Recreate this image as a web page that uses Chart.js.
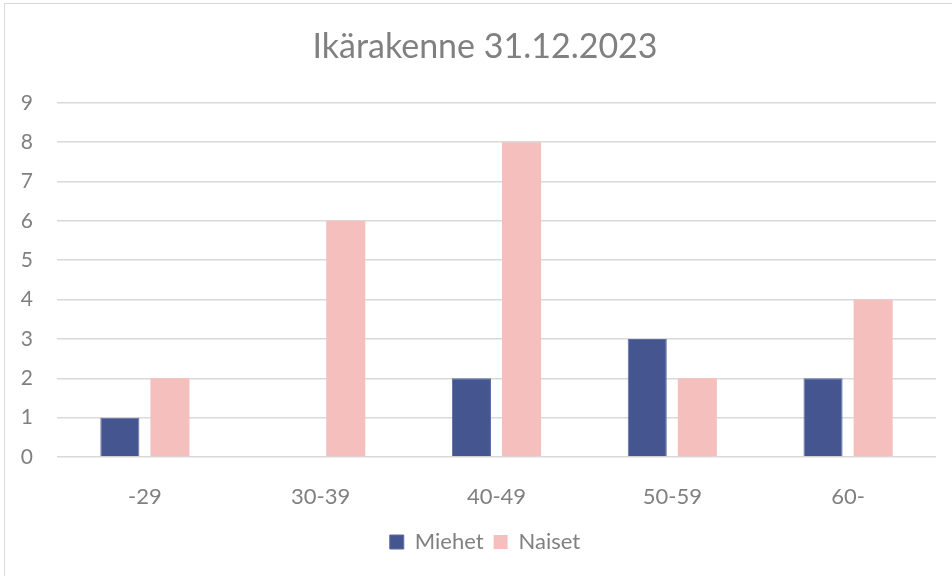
<!DOCTYPE html>
<html>
<head>
<meta charset="utf-8">
<script src="https://cdn.jsdelivr.net/npm/chart.js@4.4.0/dist/chart.umd.min.js"></script>
<style>
  html, body { margin: 0; padding: 0; background: #fff; overflow: hidden; }
  #wrap { position: relative; width: 952px; height: 576px; }
  #frame { position: absolute; left: 4px; top: 3px; width: 1000px; height: 1000px; border: 1px solid #d9d9d9; }
  canvas { position: absolute; left: 0; top: 0; }
</style>
</head>
<body>
<div id="wrap">
  <div id="frame"></div>
  <canvas id="ageChart" width="952" height="576"></canvas>
</div>
<script>
// Age groups and counts per gender
const ageGroups = ['-29', '30-39', '40-49', '50-59', '60-'];
const miehet = [1, 0, 2, 3, 2];
const naiset = [2, 6, 8, 2, 4];
const yTicks = [0, 1, 2, 3, 4, 5, 6, 7, 8, 9];

const fontName = 'Lato, "Liberation Sans", sans-serif';
const gray = '#808080';

// y labels sit in the left padding, so don't clip them to the (narrow) axis box
Chart.LinearScale.prototype._computeLabelArea = function () { return undefined; };

const ctx = document.getElementById('ageChart').getContext('2d');
const ageChart = new Chart(ctx, {
   type: 'bar',
   data: {
      labels: ageGroups,
      datasets: [
         {
            label: 'Miehet',
            data: miehet,
            backgroundColor: '#44558f',
            borderColor: '#5d6ea3',
            borderWidth: 1,
            barPercentage: 0.78,
            categoryPercentage: 0.57
         },
         {
            label: 'Naiset',
            data: naiset,
            backgroundColor: '#f4bfbd',
            borderWidth: 0,
            barPercentage: 0.78,
            categoryPercentage: 0.57
         }
      ]
   },
   options: {
      responsive: false,
      animation: false,
      // left padding pushes title/legend centre right like the original (its frame is cut off)
      layout: { padding: { left: 34, right: 16, top: 0, bottom: 13 } },
      scales: {
         x: {
            grid: { display: false },
            border: { display: false },
            ticks: { color: gray, font: { family: fontName, size: 22 }, padding: 19 },
            afterFit: scale => { scale.height = 64; }
         },
         y: {
            min: 0,
            max: 9,
            afterBuildTicks: scale => { scale.ticks = yTicks.map(v => ({ value: v })); },
            grid: { color: '#d9d9d9', lineWidth: 1.5, drawTicks: false },
            border: { display: false },
            ticks: { color: gray, font: { family: fontName, size: 21 }, padding: 24 },
            afterFit: scale => { scale.width = 23; }
         }
      },
      plugins: {
         title: {
            display: true,
            text: 'Ikärakenne 31.12.2023',
            color: gray,
            font: { family: fontName, size: 34, weight: 'normal' },
            padding: { top: 27, bottom: 35 }
         },
         legend: {
            position: 'bottom',
            labels: {
               color: gray,
               font: { family: fontName, size: 22 },
               boxWidth: 14,
               boxHeight: 14,
               padding: 10
            }
         },
         tooltip: { enabled: false }
      }
   }
});
</script>
</body>
</html>
